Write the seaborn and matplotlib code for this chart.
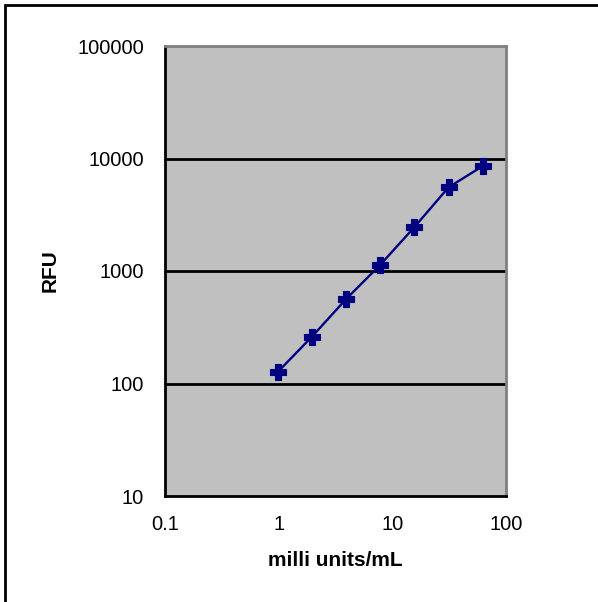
import matplotlib
matplotlib.use("Agg")
import matplotlib.pyplot as plt
import seaborn as sns
import pandas as pd
from matplotlib.patches import Rectangle

concentration = [0.977, 1.95, 3.9, 7.8, 15.6, 31.25, 62.5]
rfu = [126, 259, 560, 1130, 2450, 5550, 8570]
x_ticks = [0.1, 1, 10, 100]
x_tick_labels = ["0.1", "1", "10", "100"]
y_ticks = [10, 100, 1000, 10000, 100000]
y_tick_labels = ["10", "100", "1000", "10000", "100000"]

df = pd.DataFrame({"conc": concentration, "rfu": rfu})

sns.set_style("white")
plt.rcParams["font.family"] = ["Liberation Sans", "DejaVu Sans"]
plt.rcParams["text.color"] = "black"
plt.rcParams["axes.labelcolor"] = "black"
plt.rcParams["xtick.color"] = "black"
plt.rcParams["ytick.color"] = "black"

fig = plt.figure(figsize=(5.98, 6.02), dpi=100)
ax = fig.add_axes([165/598, 1-496/602, (506-165)/598, (496-46)/602])
ax.set_facecolor("#C0C0C0")

sns.lineplot(data=df, x="conc", y="rfu", ax=ax, color="#000080", linewidth=1.7,
             marker="P", markersize=11, markeredgecolor="#000080",
             markeredgewidth=0.8, markerfacecolor="#000080", zorder=5)

ax.set_xscale("log")
ax.set_yscale("log")
ax.set_xlim(0.1, 100)
ax.set_ylim(10, 100000)
ax.set_xticks(x_ticks)
ax.set_xticklabels(x_tick_labels)
ax.set_yticks(y_ticks)
ax.set_yticklabels(y_tick_labels)
ax.minorticks_off()

for y in y_ticks[1:-1]:
    ax.axhline(y, color="black", linewidth=2, zorder=2)

ax.tick_params(axis="both", which="major", direction="out", length=5, width=2,
               color="black", labelcolor="black", labelsize=14.5)
ax.tick_params(axis="y", pad=10)
ax.tick_params(axis="x", pad=9)
for side in ["left", "bottom"]:
    ax.spines[side].set_color("black")
    ax.spines[side].set_linewidth(2)
for side in ["top", "right"]:
    ax.spines[side].set_color("#808080")
    ax.spines[side].set_linewidth(2)
    ax.spines[side].set_visible(True)

ax.set_xlabel("milli units/mL", fontsize=15, fontweight="bold", labelpad=12,
              color="black")
ax.set_ylabel("RFU", fontsize=15, fontweight="bold", labelpad=13, color="black")

fig.patches.append(Rectangle((5/598, -0.1), 1.2, 1 - 5/602 + 0.1,
                             transform=fig.transFigure, fill=False,
                             edgecolor="black", linewidth=2))

fig.savefig("out.png", dpi=100)
